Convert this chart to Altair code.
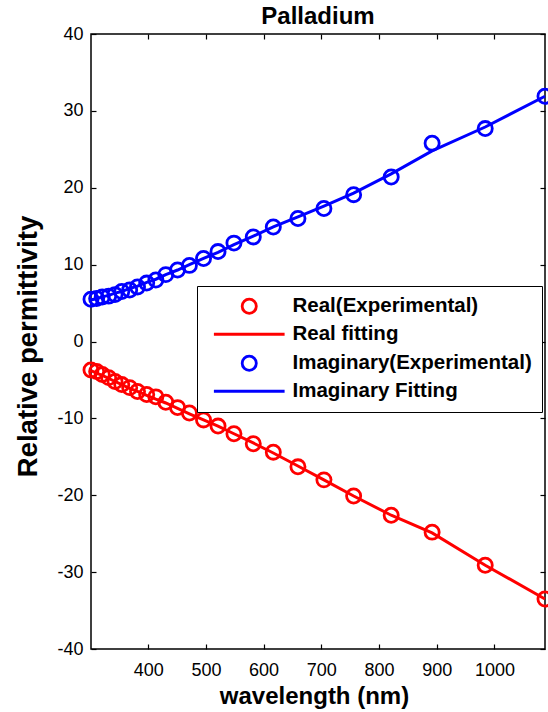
import altair as alt
import pandas as pd

# ---------------- data ----------------
wavelength = [300.9, 310.7, 320.4, 331.5, 342.5, 354.2, 367.9, 381.5, 397.4, 413.3,
              430.5, 450.9, 471.4, 495.9, 521.0, 548.6, 582.1, 616.8, 659.5, 704.5,
              756.0, 821.1, 892.0, 984.0, 1087.6]

real_exp = [-3.7, -3.9, -4.3, -4.7, -5.2, -5.6, -6.0, -6.5, -6.9, -7.2,
            -7.9, -8.6, -9.3, -10.2, -11.0, -12.0, -13.3, -14.4, -16.3, -18.0,
            -20.1, -22.6, -24.8, -29.1, -33.5]
real_fit = [-3.8, -4.1, -4.4, -4.8, -5.2, -5.6, -6.1, -6.5, -7.0, -7.5,
            -8.0, -8.7, -9.4, -10.2, -11.0, -12.0, -13.2, -14.5, -16.2, -18.0,
            -20.1, -22.6, -24.9, -29.1, -33.5]

imag_exp = [5.5, 5.6, 5.8, 5.9, 6.1, 6.5, 6.7, 7.1, 7.6, 8.0,
            8.7, 9.3, 9.9, 10.8, 11.7, 12.8, 13.6, 14.9, 16.0, 17.3,
            19.1, 21.4, 25.8, 27.7, 31.9]
imag_fit = [5.4, 5.6, 5.8, 6.0, 6.3, 6.5, 6.9, 7.2, 7.7, 8.1,
            8.7, 9.3, 10.0, 10.8, 11.6, 12.6, 13.7, 14.9, 16.2, 17.6,
            19.3, 21.8, 24.8, 27.9, 31.9]

series_names = ["Real(Experimental)", "Real fitting",
                "Imaginary(Experimental)", "Imaginary Fitting"]
series_colors = ["#ff0000", "#ff0000", "#0000ff", "#0000ff"]
series_shapes = ["circle", "M-5,0H5", "circle", "M-5,0H5"]

x_tick_values = [400, 500, 600, 700, 800, 900, 1000]
y_tick_values = [-40, -30, -20, -10, 0, 10, 20, 30, 40]

chart_title = "Palladium"
x_title = "wavelength (nm)"
y_title = "Relative permittivity"


def frame(vals, name):
    return pd.DataFrame({"wavelength": wavelength, "eps": vals, "series": name})


real_exp_df = frame(real_exp, series_names[0])
real_fit_df = frame(real_fit, series_names[1])
imag_exp_df = frame(imag_exp, series_names[2])
imag_fit_df = frame(imag_fit, series_names[3])

FONT = "Liberation Sans"

x_scale = alt.Scale(nice=False, zero=False)
y_scale = alt.Scale(domain=[-40, 40], nice=False, zero=False)

legend = alt.Legend(title=None, orient="none", legendX=106, legendY=252)
color_enc = alt.Color("series:N",
                      scale=alt.Scale(domain=series_names, range=series_colors),
                      legend=legend)
shape_enc = alt.Shape("series:N",
                      scale=alt.Scale(domain=series_names, range=series_shapes),
                      legend=legend)
color_noleg = alt.Color("series:N",
                        scale=alt.Scale(domain=series_names, range=series_colors),
                        legend=None)

# axes: main (labels) + inward tick-only axes on all four sides
x_main = alt.Axis(orient="bottom", values=x_tick_values, format="d", ticks=False,
                  tickSize=0, domain=False, grid=False, labelFont=FONT, labelFontSize=18,
                  labelColor="black", labelPadding=12, titleFont=FONT, titleFontSize=24,
                  titleFontWeight="bold", titleColor="black", titleX=223, titleY=54,
                  titleBaseline="alphabetic")
x_bottom_ticks = alt.Axis(orient="bottom", values=x_tick_values, labels=False, domain=False,
                          grid=False, ticks=True, tickSize=5, offset=-5, tickColor="black",
                          tickWidth=1.2)
x_top_ticks = alt.Axis(orient="top", values=x_tick_values, labels=False, domain=False,
                       grid=False, ticks=True, tickSize=5, offset=-5, tickColor="black",
                       tickWidth=1.2)

y_main = alt.Axis(orient="left", values=y_tick_values, labelExpr="'' + datum.value",
                  ticks=False, tickSize=0, domain=False, grid=False, labelFont=FONT,
                  labelFontSize=18, labelColor="black", labelPadding=8, titleFont=FONT,
                  titleFontSize=27.5, titleFontWeight="bold", titleColor="black",
                  titleX=-55, titleY=312, titleAngle=270, titleBaseline="alphabetic")
y_left_ticks = alt.Axis(orient="left", values=y_tick_values, labels=False, domain=False,
                        grid=False, ticks=True, tickSize=5, offset=-5, tickColor="black",
                        tickWidth=1.2)
y_right_ticks = alt.Axis(orient="right", values=y_tick_values, labels=False, domain=False,
                         grid=False, ticks=True, tickSize=5, offset=-5, tickColor="black",
                         tickWidth=1.2)

real_points = alt.Chart(real_exp_df).mark_point(
    filled=False, size=200, strokeWidth=2.8, opacity=1
).encode(
    x=alt.X("wavelength:Q", scale=x_scale, axis=x_main, title=x_title),
    y=alt.Y("eps:Q", scale=y_scale, axis=y_main, title=y_title),
    color=color_enc,
    shape=shape_enc,
)

real_line = alt.Chart(real_fit_df).mark_line(strokeWidth=3).encode(
    x=alt.X("wavelength:Q", scale=x_scale, axis=x_bottom_ticks, title=None),
    y=alt.Y("eps:Q", scale=y_scale, axis=y_left_ticks, title=None),
    color=color_noleg,
)

imag_points = alt.Chart(imag_exp_df).mark_point(
    filled=False, size=200, strokeWidth=2.8, opacity=1
).encode(
    x=alt.X("wavelength:Q", scale=x_scale, axis=x_top_ticks, title=None),
    y=alt.Y("eps:Q", scale=y_scale, axis=y_right_ticks, title=None),
    color=color_enc,
    shape=shape_enc,
)

imag_line = alt.Chart(imag_fit_df).mark_line(strokeWidth=3).encode(
    x=alt.X("wavelength:Q", scale=x_scale, axis=None),
    y=alt.Y("eps:Q", scale=y_scale, axis=None),
    color=color_noleg,
)

chart = alt.layer(real_points, real_line, imag_points, imag_line).resolve_axis(
    x="independent", y="independent"
).properties(
    width=454,
    height=615,
    title=alt.TitleParams(chart_title, font=FONT, fontSize=24, fontWeight="bold",
                          color="black", anchor="middle", frame="group", offset=4, dy=8),
    autosize=alt.AutoSizeParams(type="none"),
    padding={"left": 91, "top": 34, "right": 3, "bottom": 63},
).configure_view(
    stroke="black", strokeWidth=1.5
).configure_legend(
    labelFont=FONT, labelFontSize=20.5, labelFontWeight="bold", labelColor="black",
    labelLimit=400, symbolSize=200, symbolStrokeWidth=2.8, symbolOffset=32,
    labelOffset=33, padding=10, strokeColor="black", fillColor="white",
    rowPadding=5, cornerRadius=0
)

chart.save("out.html", embed_options={"renderer": "svg", "actions": False})
